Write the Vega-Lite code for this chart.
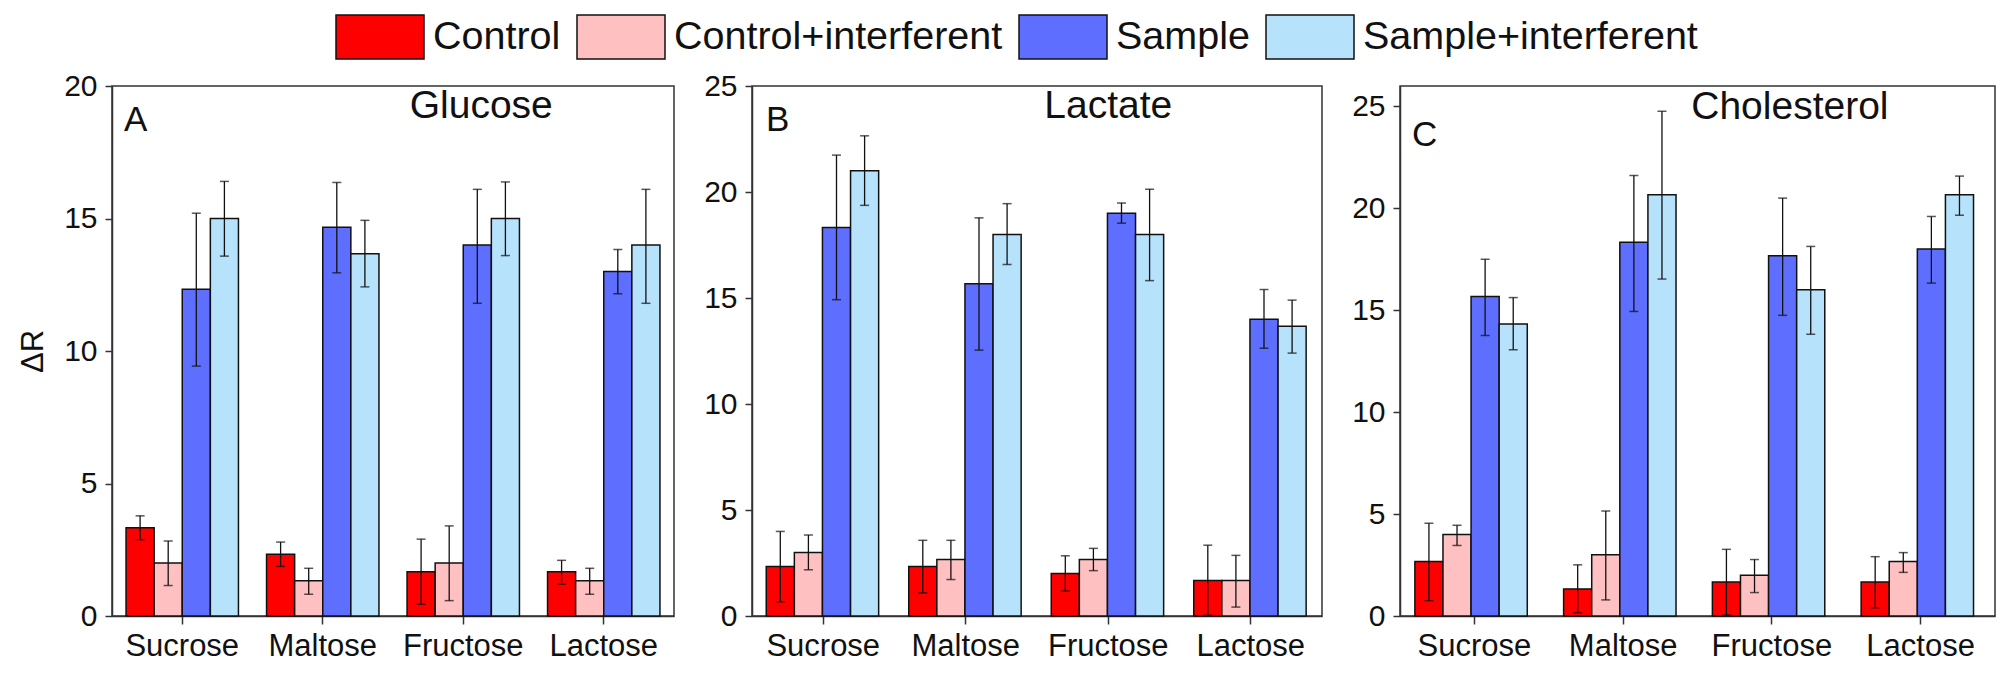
{
  "$schema": "https://vega.github.io/schema/vega-lite/v6.json",
  "background": "white",
  "padding": {"left": 16, "top": 14, "right": 10, "bottom": 10},
  "datasets": {
    "bars": [
      {"panel": "A", "sugar": "Sucrose", "series": "Control", "value": 3.33, "lo": 2.88, "hi": 3.78},
      {"panel": "A", "sugar": "Sucrose", "series": "Control+interferent", "value": 2.0, "lo": 1.15, "hi": 2.83},
      {"panel": "A", "sugar": "Sucrose", "series": "Sample", "value": 12.33, "lo": 9.43, "hi": 15.2},
      {"panel": "A", "sugar": "Sucrose", "series": "Sample+interferent", "value": 15.0, "lo": 13.58, "hi": 16.4},
      {"panel": "A", "sugar": "Maltose", "series": "Control", "value": 2.33, "lo": 1.87, "hi": 2.79},
      {"panel": "A", "sugar": "Maltose", "series": "Control+interferent", "value": 1.33, "lo": 0.82, "hi": 1.8},
      {"panel": "A", "sugar": "Maltose", "series": "Sample", "value": 14.67, "lo": 12.95, "hi": 16.36},
      {"panel": "A", "sugar": "Maltose", "series": "Sample+interferent", "value": 13.67, "lo": 12.42, "hi": 14.93},
      {"panel": "A", "sugar": "Fructose", "series": "Control", "value": 1.67, "lo": 0.44, "hi": 2.9},
      {"panel": "A", "sugar": "Fructose", "series": "Control+interferent", "value": 2.0, "lo": 0.58, "hi": 3.4},
      {"panel": "A", "sugar": "Fructose", "series": "Sample", "value": 14.0, "lo": 11.8, "hi": 16.1},
      {"panel": "A", "sugar": "Fructose", "series": "Sample+interferent", "value": 15.0, "lo": 13.6, "hi": 16.38},
      {"panel": "A", "sugar": "Lactose", "series": "Control", "value": 1.67, "lo": 1.2, "hi": 2.1},
      {"panel": "A", "sugar": "Lactose", "series": "Control+interferent", "value": 1.33, "lo": 0.82, "hi": 1.8},
      {"panel": "A", "sugar": "Lactose", "series": "Sample", "value": 13.0, "lo": 12.16, "hi": 13.83},
      {"panel": "A", "sugar": "Lactose", "series": "Sample+interferent", "value": 14.0, "lo": 11.8, "hi": 16.1},
      {"panel": "B", "sugar": "Sucrose", "series": "Control", "value": 2.33, "lo": 0.67, "hi": 3.99},
      {"panel": "B", "sugar": "Sucrose", "series": "Control+interferent", "value": 3.0, "lo": 2.18, "hi": 3.82},
      {"panel": "B", "sugar": "Sucrose", "series": "Sample", "value": 18.33, "lo": 14.92, "hi": 21.74},
      {"panel": "B", "sugar": "Sucrose", "series": "Sample+interferent", "value": 21.0, "lo": 19.37, "hi": 22.65},
      {"panel": "B", "sugar": "Maltose", "series": "Control", "value": 2.33, "lo": 1.09, "hi": 3.57},
      {"panel": "B", "sugar": "Maltose", "series": "Control+interferent", "value": 2.67, "lo": 1.72, "hi": 3.57},
      {"panel": "B", "sugar": "Maltose", "series": "Sample", "value": 15.67, "lo": 12.54, "hi": 18.78},
      {"panel": "B", "sugar": "Maltose", "series": "Sample+interferent", "value": 18.0, "lo": 16.58, "hi": 19.45},
      {"panel": "B", "sugar": "Fructose", "series": "Control", "value": 2.0, "lo": 1.18, "hi": 2.84},
      {"panel": "B", "sugar": "Fructose", "series": "Control+interferent", "value": 2.67, "lo": 2.14, "hi": 3.19},
      {"panel": "B", "sugar": "Fructose", "series": "Sample", "value": 19.0, "lo": 18.53, "hi": 19.48},
      {"panel": "B", "sugar": "Fructose", "series": "Sample+interferent", "value": 18.0, "lo": 15.82, "hi": 20.13},
      {"panel": "B", "sugar": "Lactose", "series": "Control", "value": 1.67, "lo": 0.04, "hi": 3.34},
      {"panel": "B", "sugar": "Lactose", "series": "Control+interferent", "value": 1.67, "lo": 0.42, "hi": 2.86},
      {"panel": "B", "sugar": "Lactose", "series": "Sample", "value": 14.0, "lo": 12.63, "hi": 15.4},
      {"panel": "B", "sugar": "Lactose", "series": "Sample+interferent", "value": 13.67, "lo": 12.4, "hi": 14.9},
      {"panel": "C", "sugar": "Sucrose", "series": "Control", "value": 2.67, "lo": 0.75, "hi": 4.55},
      {"panel": "C", "sugar": "Sucrose", "series": "Control+interferent", "value": 4.0, "lo": 3.46, "hi": 4.45},
      {"panel": "C", "sugar": "Sucrose", "series": "Sample", "value": 15.67, "lo": 13.76, "hi": 17.5},
      {"panel": "C", "sugar": "Sucrose", "series": "Sample+interferent", "value": 14.33, "lo": 13.06, "hi": 15.62},
      {"panel": "C", "sugar": "Maltose", "series": "Control", "value": 1.33, "lo": 0.16, "hi": 2.51},
      {"panel": "C", "sugar": "Maltose", "series": "Control+interferent", "value": 3.0, "lo": 0.79, "hi": 5.15},
      {"panel": "C", "sugar": "Maltose", "series": "Sample", "value": 18.33, "lo": 14.94, "hi": 21.61},
      {"panel": "C", "sugar": "Maltose", "series": "Sample+interferent", "value": 20.67, "lo": 16.53, "hi": 24.76},
      {"panel": "C", "sugar": "Fructose", "series": "Control", "value": 1.67, "lo": 0.05, "hi": 3.27},
      {"panel": "C", "sugar": "Fructose", "series": "Control+interferent", "value": 2.0, "lo": 1.15, "hi": 2.77},
      {"panel": "C", "sugar": "Fructose", "series": "Sample", "value": 17.67, "lo": 14.75, "hi": 20.5},
      {"panel": "C", "sugar": "Fructose", "series": "Sample+interferent", "value": 16.0, "lo": 13.82, "hi": 18.13},
      {"panel": "C", "sugar": "Lactose", "series": "Control", "value": 1.67, "lo": 0.4, "hi": 2.91},
      {"panel": "C", "sugar": "Lactose", "series": "Control+interferent", "value": 2.67, "lo": 2.14, "hi": 3.11},
      {"panel": "C", "sugar": "Lactose", "series": "Sample", "value": 18.0, "lo": 16.33, "hi": 19.6},
      {"panel": "C", "sugar": "Lactose", "series": "Sample+interferent", "value": 20.67, "lo": 19.66, "hi": 21.58}
    ],
    "names": [
      {"panel": "A", "name": "Glucose", "sugar": "Fructose", "level": 18.8},
      {"panel": "B", "name": "Lactate", "sugar": "Fructose", "level": 23.5},
      {"panel": "C", "name": "Cholesterol", "sugar": "Fructose", "level": 24.4}
    ]
  },
  "config": {
    "font": "Liberation Sans",
    "view": {"stroke": "#333333", "strokeWidth": 1.5},
    "axis": {
      "labelFont": "Liberation Sans",
      "titleFont": "Liberation Sans",
      "labelFontSize": 31,
      "titleFontSize": 31,
      "titleFontWeight": "normal",
      "labelColor": "#111111",
      "titleColor": "#111111",
      "domainColor": "#333333",
      "tickColor": "#333333",
      "domainWidth": 1.5,
      "tickWidth": 1.5,
      "tickSize": 8,
      "grid": false
    },
    "axisY": {"labelFontSize": 30, "tickSize": 7, "labelPadding": 8},
    "legend": {
      "orient": "none",
      "direction": "horizontal",
      "legendX": 245,
      "legendY": -72,
      "title": null,
      "labelFont": "Liberation Sans",
      "labelFontSize": 39.5,
      "labelColor": "#111111",
      "labelLimit": 0,
      "labelOffset": 30,
      "columnPadding": 13,
      "symbolType": "M-2,-1H2V1H-2Z",
      "symbolSize": 1936,
      "symbolStrokeColor": "#111111",
      "symbolStrokeWidth": 1.5,
      "symbolOpacity": 1
    },
    "title": {"font": "Liberation Sans", "fontWeight": "normal", "fontSize": 35, "color": "#111111", "anchor": "start", "frame": "group", "baseline": "alphabetic"}
  },
  "spacing": 27,
  "hconcat": [
    {
      "width": 562,
      "height": 530,
      "title": {"text": "A", "offset": -67, "dx": 12},
      "layer": [
        {
          "data": {"name": "bars"},
          "transform": [{"filter": "datum.panel === 'A'"}],
          "mark": {"type": "bar", "stroke": "#111111", "strokeWidth": 1.5},
          "encoding": {
            "x": {"field": "sugar", "type": "nominal", "scale": {"domain": ["Sucrose", "Maltose", "Fructose", "Lactose"], "paddingInner": 0.2, "paddingOuter": 0.1}, "axis": {"title": null, "labelAngle": 0, "labelPadding": 7}},
            "xOffset": {"field": "series", "type": "nominal", "scale": {"domain": ["Control", "Control+interferent", "Sample", "Sample+interferent"], "paddingInner": 0, "paddingOuter": 0}},
            "y": {"field": "value", "type": "quantitative", "scale": {"domain": [0, 20], "nice": false}, "axis": {"title": "ΔR", "values": [0, 5, 10, 15, 20], "titlePadding": 14}},
            "color": {"field": "series", "type": "nominal", "scale": {"domain": ["Control", "Control+interferent", "Sample", "Sample+interferent"], "range": ["#ff0000", "#ffc0c2", "#5e6eff", "#b6e2fb"]}}
          }
        },
        {
          "data": {"name": "bars"},
          "transform": [{"filter": "datum.panel === 'A'"}],
          "mark": {"type": "rule", "color": "#111111", "strokeWidth": 1.3},
          "encoding": {
            "x": {"field": "sugar", "type": "nominal"},
            "xOffset": {"field": "series", "type": "nominal"},
            "y": {"field": "lo", "type": "quantitative"},
            "y2": {"field": "hi"}
          }
        },
        {
          "data": {"name": "bars"},
          "transform": [{"filter": "datum.panel === 'A'"}],
          "mark": {"type": "tick", "color": "#111111", "thickness": 1.5, "size": 9},
          "encoding": {
            "x": {"field": "sugar", "type": "nominal"},
            "xOffset": {"field": "series", "type": "nominal"},
            "y": {"field": "lo", "type": "quantitative"}
          }
        },
        {
          "data": {"name": "bars"},
          "transform": [{"filter": "datum.panel === 'A'"}],
          "mark": {"type": "tick", "color": "#111111", "thickness": 1.5, "size": 9},
          "encoding": {
            "x": {"field": "sugar", "type": "nominal"},
            "xOffset": {"field": "series", "type": "nominal"},
            "y": {"field": "hi", "type": "quantitative"}
          }
        },
        {
          "data": {"name": "names"},
          "transform": [{"filter": "datum.panel === 'A'"}],
          "mark": {"type": "text", "fontSize": 39, "color": "#111111", "baseline": "alphabetic", "align": "center", "dx": 18},
          "encoding": {
            "x": {"field": "sugar", "type": "nominal"},
            "y": {"field": "level", "type": "quantitative"},
            "text": {"field": "name"}
          }
        }
      ]
    },
    {
      "width": 570,
      "height": 530,
      "title": {"text": "B", "offset": -67, "dx": 14},
      "layer": [
        {
          "data": {"name": "bars"},
          "transform": [{"filter": "datum.panel === 'B'"}],
          "mark": {"type": "bar", "stroke": "#111111", "strokeWidth": 1.5},
          "encoding": {
            "x": {"field": "sugar", "type": "nominal", "scale": {"domain": ["Sucrose", "Maltose", "Fructose", "Lactose"], "paddingInner": 0.2, "paddingOuter": 0.1}, "axis": {"title": null, "labelAngle": 0, "labelPadding": 7}},
            "xOffset": {"field": "series", "type": "nominal", "scale": {"domain": ["Control", "Control+interferent", "Sample", "Sample+interferent"], "paddingInner": 0, "paddingOuter": 0}},
            "y": {"field": "value", "type": "quantitative", "scale": {"domain": [0, 25], "nice": false}, "axis": {"title": null, "values": [0, 5, 10, 15, 20, 25]}},
            "color": {"field": "series", "type": "nominal", "scale": {"domain": ["Control", "Control+interferent", "Sample", "Sample+interferent"], "range": ["#ff0000", "#ffc0c2", "#5e6eff", "#b6e2fb"]}}
          }
        },
        {
          "data": {"name": "bars"},
          "transform": [{"filter": "datum.panel === 'B'"}],
          "mark": {"type": "rule", "color": "#111111", "strokeWidth": 1.3},
          "encoding": {
            "x": {"field": "sugar", "type": "nominal"},
            "xOffset": {"field": "series", "type": "nominal"},
            "y": {"field": "lo", "type": "quantitative"},
            "y2": {"field": "hi"}
          }
        },
        {
          "data": {"name": "bars"},
          "transform": [{"filter": "datum.panel === 'B'"}],
          "mark": {"type": "tick", "color": "#111111", "thickness": 1.5, "size": 9},
          "encoding": {
            "x": {"field": "sugar", "type": "nominal"},
            "xOffset": {"field": "series", "type": "nominal"},
            "y": {"field": "lo", "type": "quantitative"}
          }
        },
        {
          "data": {"name": "bars"},
          "transform": [{"filter": "datum.panel === 'B'"}],
          "mark": {"type": "tick", "color": "#111111", "thickness": 1.5, "size": 9},
          "encoding": {
            "x": {"field": "sugar", "type": "nominal"},
            "xOffset": {"field": "series", "type": "nominal"},
            "y": {"field": "hi", "type": "quantitative"}
          }
        },
        {
          "data": {"name": "names"},
          "transform": [{"filter": "datum.panel === 'B'"}],
          "mark": {"type": "text", "fontSize": 39, "color": "#111111", "baseline": "alphabetic", "align": "center", "dx": 0},
          "encoding": {
            "x": {"field": "sugar", "type": "nominal"},
            "y": {"field": "level", "type": "quantitative"},
            "text": {"field": "name"}
          }
        }
      ]
    },
    {
      "width": 595,
      "height": 530,
      "title": {"text": "C", "offset": -67, "dx": 12},
      "layer": [
        {
          "data": {"name": "bars"},
          "transform": [{"filter": "datum.panel === 'C'"}],
          "mark": {"type": "bar", "stroke": "#111111", "strokeWidth": 1.5},
          "encoding": {
            "x": {"field": "sugar", "type": "nominal", "scale": {"domain": ["Sucrose", "Maltose", "Fructose", "Lactose"], "paddingInner": 0.2, "paddingOuter": 0.1}, "axis": {"title": null, "labelAngle": 0, "labelPadding": 7}},
            "xOffset": {"field": "series", "type": "nominal", "scale": {"domain": ["Control", "Control+interferent", "Sample", "Sample+interferent"], "paddingInner": 0, "paddingOuter": 0}},
            "y": {"field": "value", "type": "quantitative", "scale": {"domain": [0, 26], "nice": false}, "axis": {"title": null, "values": [0, 5, 10, 15, 20, 25]}},
            "color": {"field": "series", "type": "nominal", "scale": {"domain": ["Control", "Control+interferent", "Sample", "Sample+interferent"], "range": ["#ff0000", "#ffc0c2", "#5e6eff", "#b6e2fb"]}}
          }
        },
        {
          "data": {"name": "bars"},
          "transform": [{"filter": "datum.panel === 'C'"}],
          "mark": {"type": "rule", "color": "#111111", "strokeWidth": 1.3},
          "encoding": {
            "x": {"field": "sugar", "type": "nominal"},
            "xOffset": {"field": "series", "type": "nominal"},
            "y": {"field": "lo", "type": "quantitative"},
            "y2": {"field": "hi"}
          }
        },
        {
          "data": {"name": "bars"},
          "transform": [{"filter": "datum.panel === 'C'"}],
          "mark": {"type": "tick", "color": "#111111", "thickness": 1.5, "size": 9},
          "encoding": {
            "x": {"field": "sugar", "type": "nominal"},
            "xOffset": {"field": "series", "type": "nominal"},
            "y": {"field": "lo", "type": "quantitative"}
          }
        },
        {
          "data": {"name": "bars"},
          "transform": [{"filter": "datum.panel === 'C'"}],
          "mark": {"type": "tick", "color": "#111111", "thickness": 1.5, "size": 9},
          "encoding": {
            "x": {"field": "sugar", "type": "nominal"},
            "xOffset": {"field": "series", "type": "nominal"},
            "y": {"field": "hi", "type": "quantitative"}
          }
        },
        {
          "data": {"name": "names"},
          "transform": [{"filter": "datum.panel === 'C'"}],
          "mark": {"type": "text", "fontSize": 39, "color": "#111111", "baseline": "alphabetic", "align": "center", "dx": 18},
          "encoding": {
            "x": {"field": "sugar", "type": "nominal"},
            "y": {"field": "level", "type": "quantitative"},
            "text": {"field": "name"}
          }
        }
      ]
    }
  ]
}
